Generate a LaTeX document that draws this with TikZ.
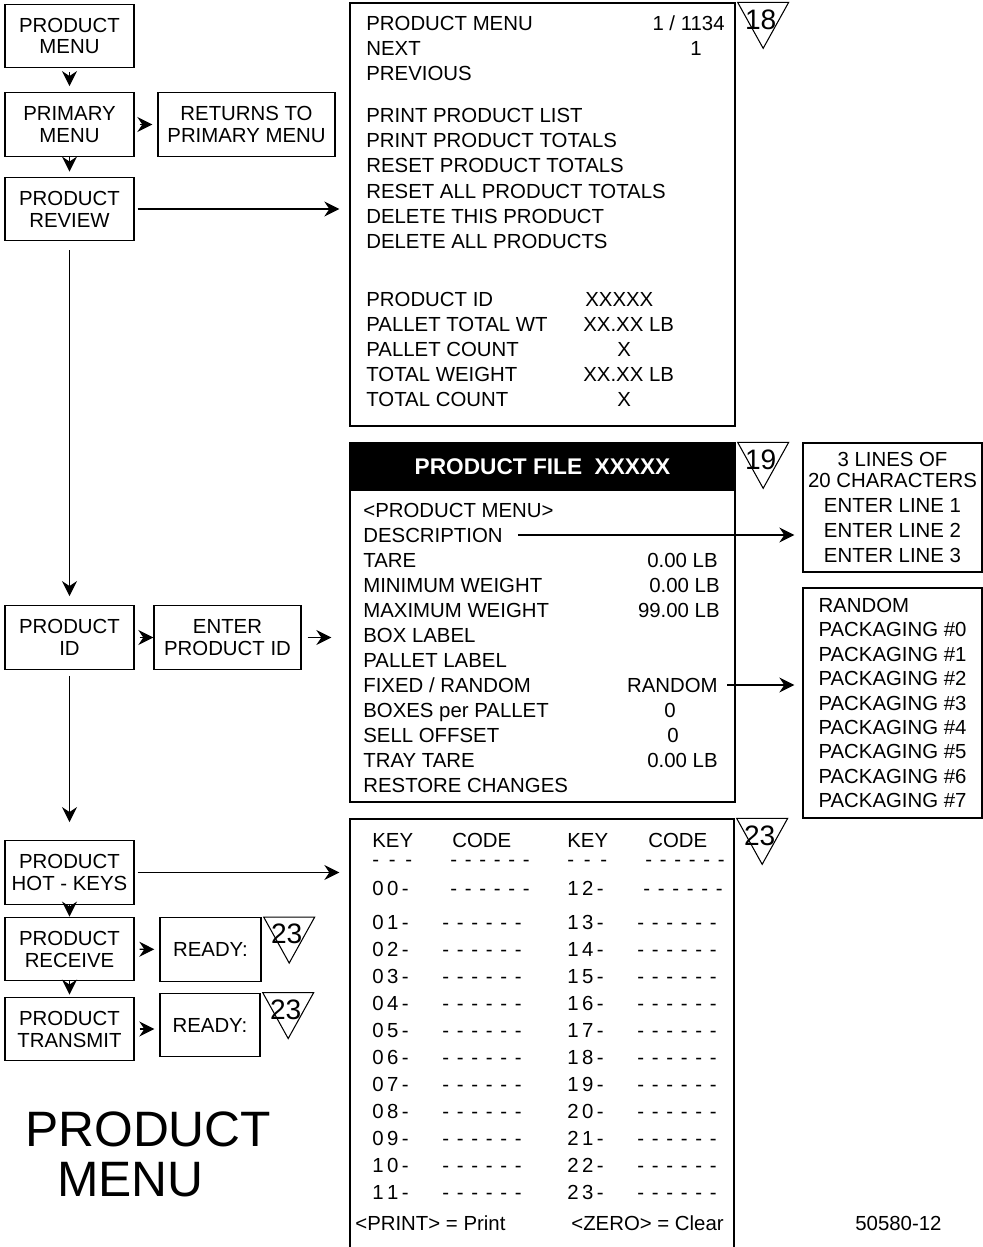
\documentclass[tikz,border=0pt]{standalone}
\usepackage{fontspec}
\setmainfont{Liberation Sans}
\usetikzlibrary{arrows.meta,positioning,calc}

\newcommand{\scr}{\fontsize{11.6}{14.2}\selectfont}
\newcommand{\boxf}{\fontsize{11.6}{12.5}\selectfont}
\newcommand{\hdr}{\fontsize{12.9}{14}\selectfont\bfseries}
\newcommand{\ttl}{\fontsize{28.3}{30}\selectfont}
\newcommand{\codedash}{-\hskip4.4pt-\hskip4.4pt-\hskip4.4pt-\hskip4.4pt-\hskip4.4pt-}
\newcommand{\keydash}{-\hskip5.5pt-\hskip5.5pt-}
% inverted reference triangle with its page number
\newcommand{\reftri}[3]{%
  \draw[tri] ($(#1)+(2,0)$) coordinate (#2a) -- ++(51,0) -- ++(-25.5,46) -- cycle;
  \node[trinum] (#2) at ($(#2a)+(23,17)$) {#3};}

\begin{document}
\begin{tikzpicture}[
  x=0.02cm, y=-0.02cm,
  menu/.style={draw, line width=0.8pt, minimum width=2.58cm, minimum height=1.27cm, align=center, font=\boxf, inner sep=1pt},
  screen/.style={draw, line width=0.8pt, inner sep=0},
  ln/.style={anchor=base west, inner sep=0, font=\scr},
  val/.style={anchor=base east, inner sep=0, font=\scr},
  ctr/.style={anchor=base, inner sep=0, font=\scr},
  arr/.style={line width=0.7pt, -{Stealth[length=0.3cm, width=0.3cm, inset=0.1cm]}},
  tri/.style={line width=0.6pt},
  trinum/.style={inner sep=0, font=\fontsize{16}{16}\selectfont}
]
  \useasboundingbox (0,0) rectangle (983,1247);

  % menu column
  \node[menu] (pmenu) at (69.5,36) {PRODUCT\\MENU};
  \node[menu] (primary) at (69.5,124.5) {PRIMARY\\MENU};
  \node[menu, minimum width=3.54cm] (returns) at (246.5,124.5) {RETURNS TO\\PRIMARY MENU};
  \node[menu] (review) at (69.5,209) {PRODUCT\\REVIEW};
  \node[menu] (prodid) at (69.5,637.5) {PRODUCT\\ID};
  \node[menu, minimum width=2.94cm] (enterid) at (227.5,637.5) {ENTER\\PRODUCT ID};
  \node[menu] (hotkeys) at (69.5,872.5) {PRODUCT\\HOT - KEYS};
  \node[menu] (receive) at (69.5,949) {PRODUCT\\RECEIVE};
  \node[menu, minimum width=2.02cm] (ready1) at (210.5,949.5) {READY:};
  \node[menu] (transmit) at (69.5,1029) {PRODUCT\\TRANSMIT};
  \node[menu, minimum width=2.0cm] (ready2) at (210,1025) {READY:};

  \node[anchor=base west, inner sep=0, font=\ttl] (ttl1) at (25,1146) {PRODUCT};
  \node[anchor=base west, inner sep=0, font=\ttl] (ttl2) at (57,1196) {MENU};

  % review screen
  \node[screen, minimum width=7.7cm, minimum height=8.46cm] (scr18) at (542.5,214.5) {};
  \foreach \t [count=\i] in {PRODUCT MENU, NEXT, PREVIOUS}
    \node[ln] (nav\i) at (366,6+25*\i) {\t};
  \node[val] (navv1) at (725,31) {1 / 1134};
  \node[val] (navv2) at (702,56) {1};
  \foreach \t [count=\i] in {PRINT PRODUCT LIST, PRINT PRODUCT TOTALS, RESET PRODUCT TOTALS, RESET ALL PRODUCT TOTALS, DELETE THIS PRODUCT, DELETE ALL PRODUCTS}
    \node[ln] (cmd\i) at (366,97+25.3*\i) {\t};
  \foreach \t/\v/\x [count=\i] in {PRODUCT ID/XXXXX/585, PALLET TOTAL WT/XX.XX LB/583, PALLET COUNT/X/617, TOTAL WEIGHT/XX.XX LB/583, TOTAL COUNT/X/617}
  {
    \node[ln] (tot\i) at (366,281+25*\i) {\t};
    \node[ln] (totv\i) at (\x,281+25*\i) {\v};
  }

  % product file screen
  \node[screen, minimum width=7.7cm, minimum height=7.18cm] (pfile) at (542.5,622.5) {};
  \node[fill=black, minimum width=7.7cm, minimum height=0.96cm, anchor=north, inner sep=0, text=white, font=\hdr] (pfhead) at (pfile.north) {PRODUCT FILE\ \ XXXXX};
  \foreach \t [count=\i] in {<PRODUCT MENU>, DESCRIPTION, TARE, MINIMUM WEIGHT, MAXIMUM WEIGHT, BOX LABEL, PALLET LABEL, FIXED / RANDOM, BOXES per PALLET, SELL OFFSET, TRAY TARE, RESTORE CHANGES}
    \node[ln] (fld\i) at (363,492+25*\i) {\t};
  \node[val] (fldv3) at (718,567) {0.00 LB};
  \node[val] (fldv4) at (720,592) {0.00 LB};
  \node[val] (fldv5) at (720,617) {99.00 LB};
  \node[val] (fldv8) at (718,692) {RANDOM};
  \node[ctr] (fldv9) at (670,717) {0};
  \node[ctr] (fldv10) at (673,742) {0};
  \node[val] (fldv11) at (718,767) {0.00 LB};

  \node[screen, minimum width=3.58cm, minimum height=2.58cm, align=center, font=\scr] (lines) at (892.5,507.5)
    {3 LINES OF\\[-2.3pt]20 CHARACTERS\\ENTER LINE 1\\ENTER LINE 2\\ENTER LINE 3};
  \node[screen, minimum width=3.58cm, minimum height=4.6cm, align=left, font=\fontsize{11.6}{13.9}\selectfont] (pack) at (892.5,703)
    {RANDOM\\PACKAGING \#0\\PACKAGING \#1\\PACKAGING \#2\\PACKAGING \#3\\PACKAGING \#4\\PACKAGING \#5\\PACKAGING \#6\\PACKAGING \#7};

  % hot-keys screen
  \node[screen, minimum width=7.68cm, minimum height=8.86cm] (hotscr) at (542,1040.5) {};
  \node[ln] (hk1) at (372,847) {KEY};
  \node[ln] (hc1) at (452,847) {CODE};
  \node[ln] (hk2) at (567,847) {KEY};
  \node[ln] (hc2) at (648,847) {CODE};
  \node[ln] (hd1) at (372,866) {\keydash};
  \node[ln] (hd2) at (450,866) {\codedash};
  \node[ln] (hd3) at (567,866) {\keydash};
  \node[ln] (hd4) at (645,866) {\codedash};
  \node[ln] (rka0) at (372,895) {0\,0\,-};
  \node[ln] (rca0) at (450,895) {\codedash};
  \node[ln] (rkb0) at (567,895) {1\,2\,-};
  \node[ln] (rcb0) at (643,895) {\codedash};
  \foreach \a/\b/\c/\d [count=\i] in {0/1/1/3, 0/2/1/4, 0/3/1/5, 0/4/1/6, 0/5/1/7, 0/6/1/8, 0/7/1/9, 0/8/2/0, 0/9/2/1, 1/0/2/2, 1/1/2/3}
  {
    \node[ln] (rka\i) at (372,902+27*\i) {\a\,\b\,-};
    \node[ln] (rca\i) at (442,902+27*\i) {\codedash};
    \node[ln] (rkb\i) at (567,902+27*\i) {\c\,\d\,-};
    \node[ln] (rcb\i) at (637,902+27*\i) {\codedash};
  }
  \node[ln] (prt) at (355,1230) {<PRINT> = Print};
  \node[ln] (zro) at (571,1230) {<ZERO> = Clear};
  \node[ln] (docno) at (855,1230) {50580-12};

  \reftri{scr18.north east}{n18}{18}
  \reftri{pfile.north east}{n19}{19}
  \reftri{hotscr.north east}{n23}{23}
  \reftri{ready1.north east}{n23r}{23}
  \reftri{ready2.north east}{n23t}{23}

  % connectors
  \draw[arr, shorten <=0.08cm, shorten >=0.12cm] (pmenu) -- (primary);
  \draw[arr, shorten <=0.1cm, shorten >=0.1cm] (primary) -- (returns);
  \draw[arr, shorten >=0.1cm] (primary) -- (review);
  \draw[arr, shorten <=0.06cm, shorten >=0.2cm] (review.east) -- (review.east -| scr18.west);
  \draw[arr, shorten <=0.18cm, shorten >=0.18cm] (review) -- (prodid);
  \draw[arr, shorten <=0.1cm] (prodid) -- (enterid);
  \draw[arr, shorten <=0.12cm, shorten >=0.36cm] (enterid.east) -- (enterid.east -| pfile.west);
  \draw[arr, shorten <=0.12cm, shorten >=0.36cm] (prodid) -- (hotkeys);
  \draw[arr, shorten <=0.06cm, shorten >=0.2cm] (hotkeys.east) -- (hotkeys.east -| hotscr.west);
  \draw[arr] (hotkeys) -- (receive);
  \draw[arr, shorten <=0.1cm, shorten >=0.1cm] (receive) -- (ready1);
  \draw[arr, shorten >=0.04cm] (receive) -- (transmit);
  \draw[arr, shorten <=0.1cm, shorten >=0.1cm] (transmit.east) -- (transmit.east -| ready2.west);
  \draw[arr, shorten <=0.3cm, shorten >=0.16cm] (fld2.east) -- (fld2.east -| lines.west);
  \draw[arr, shorten <=0.18cm, shorten >=0.16cm] (fldv8.east) -- (fldv8.east -| pack.west);
\end{tikzpicture}
\end{document}
